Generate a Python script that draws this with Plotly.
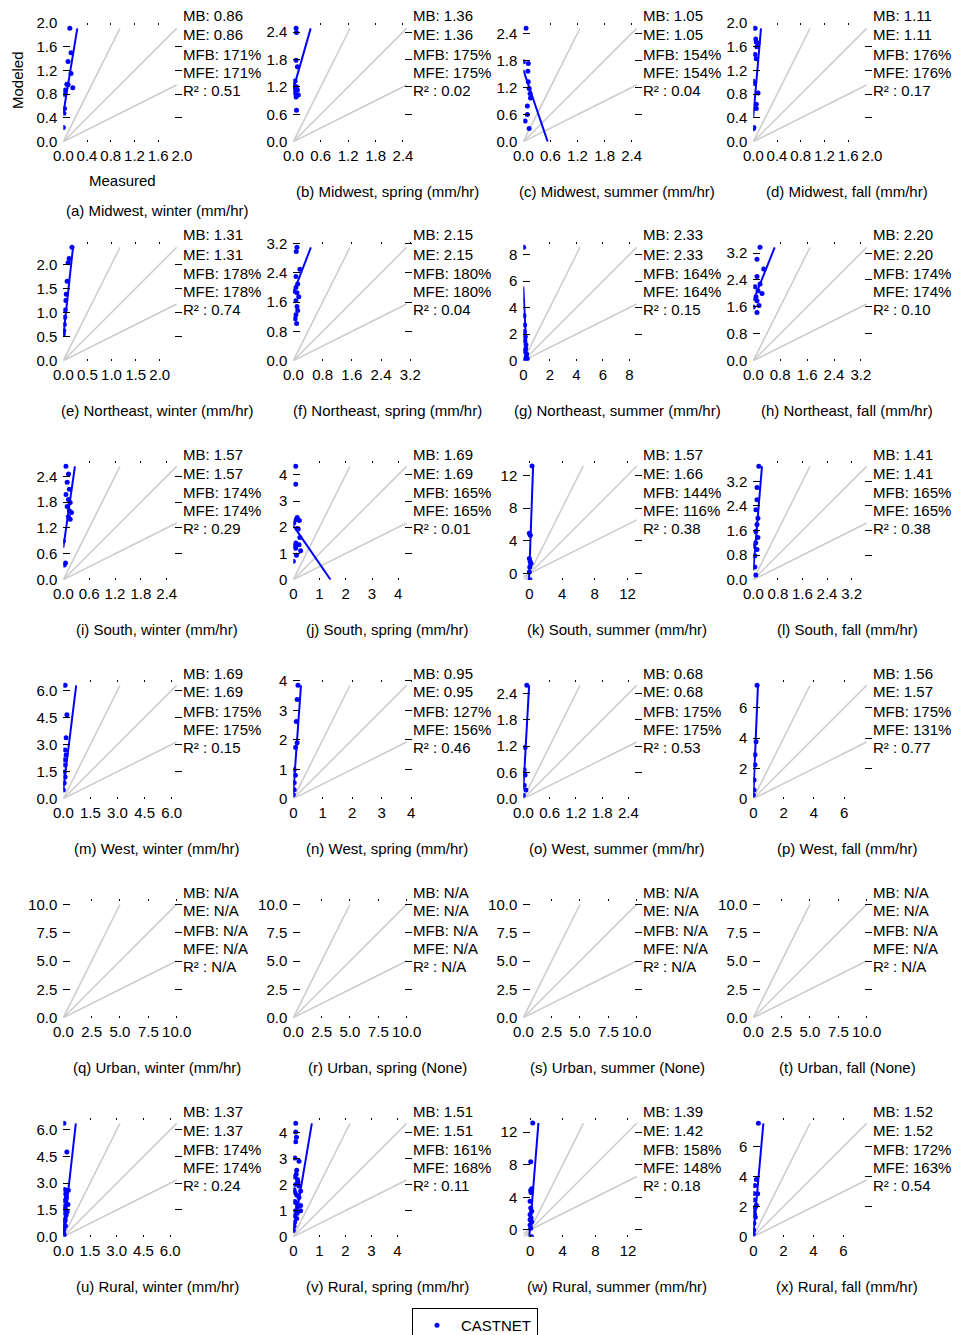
import plotly.graph_objects as go

# ---------------------------------------------------------------------------
# Data: measured vs. modeled precipitation (mm/hr) per region and season
# ---------------------------------------------------------------------------
a_meas = [0.11, 0.13, 0.08, 0.13, 0.06, 0.08, 0.16, 0.03, 0.02, 0.02, 0.01, 0.00]
a_mod = [1.91, 1.50, 1.35, 1.15, 0.97, 0.96, 0.91, 0.87, 0.80, 0.56, 0.48, 0.24]

b_meas = [0.06, 0.07, 0.06, 0.09, 0.04, 0.07, 0.09, 0.04, 0.11, 0.06, 0.07, 0.00, 0.00]
b_mod = [2.48, 2.39, 1.78, 1.64, 1.33, 1.20, 1.13, 1.06, 1.02, 0.98, 0.69, 1.15, 1.25]

c_meas = [0.06, 0.00, 0.11, 0.10, 0.11, 0.13, 0.15, 0.16, 0.09, 0.09, 0.04, 0.13]
c_mod = [2.51, 1.77, 1.73, 1.56, 1.33, 1.18, 1.07, 0.97, 0.79, 0.60, 0.46, 0.29]

d_meas = [0.03, 0.04, 0.05, 0.08, 0.06, 0.03, 0.05, 0.00, 0.01, 0.08, 0.05, 0.05, 0.01, 0.00]
d_mod = [1.91, 1.73, 1.68, 1.66, 1.60, 1.47, 1.40, 1.02, 0.98, 0.82, 0.63, 0.56, 0.24, 0.22]

e_meas = [0.18, 0.12, 0.10, 0.08, 0.06, 0.05, 0.04, 0.03, 0.02, 0.01, 0.00]
e_mod = [2.35, 2.12, 2.03, 1.65, 1.38, 1.25, 1.05, 0.90, 0.75, 0.62, 0.55]

f_meas = [0.10, 0.08, 0.18, 0.07, 0.12, 0.07, 0.10, 0.15, 0.07, 0.10, 0.12, 0.07, 0.00, 0.05, 0.09]
f_mod = [3.10, 2.99, 2.50, 2.30, 2.10, 2.00, 1.86, 1.75, 1.64, 1.48, 1.37, 1.26, 1.90, 1.15, 1.02]

g_meas = [0.02, 0.05, 0.10, 0.08, 0.15, 0.12, 0.20, 0.18, 0.10, 0.25, 0.22, 0.30, 0.00]
g_mod = [8.55, 3.40, 2.70, 2.20, 1.80, 1.50, 1.20, 0.90, 0.70, 0.50, 0.30, 0.15, 0.05]

h_meas = [0.20, 0.11, 0.31, 0.11, 0.20, 0.05, 0.14, 0.26, 0.08, 0.11, 0.17, 0.11, 0.00]
h_mod = [3.37, 3.02, 2.73, 2.50, 2.28, 2.20, 2.08, 2.00, 1.90, 1.78, 1.64, 1.43, 1.60]

i_meas = [0.06, 0.12, 0.09, 0.14, 0.06, 0.12, 0.16, 0.09, 0.14, 0.19, 0.12, 0.16, 0.05, 0.02, 0.00]
i_mod = [2.63, 2.45, 2.26, 2.10, 1.98, 1.86, 1.79, 1.70, 1.60, 1.56, 1.46, 1.40, 0.39, 0.34, 0.90]

j_meas = [0.09, 0.09, 0.15, 0.23, 0.11, 0.02, 0.19, 0.25, 0.10, 0.22, 0.09, 0.28, 0.12, 0.00, 0.15, 0.05]
j_mod = [4.32, 3.64, 2.37, 2.26, 2.29, 2.16, 1.93, 1.61, 1.40, 1.33, 1.20, 1.10, 0.93, 0.70, 1.95, 1.30]

k_meas = [0.33, 0.00, 0.12, 0.00, 0.20, 0.05, 0.00, 0.08, 0.10]
k_mod = [13.15, 4.93, 4.70, 1.85, 1.23, 0.82, 0.20, -0.74, 1.50]

l_meas = [0.18, 0.12, 0.12, 0.08, 0.15, 0.12, 0.08, 0.15, 0.08, 0.12, 0.05, 0.05, 0.08, 0.00]
l_mod = [3.69, 3.00, 2.60, 2.28, 2.00, 1.80, 1.57, 1.37, 1.20, 0.98, 0.78, 0.41, 0.15, 1.10]

m_meas = [0.10, 0.20, 0.15, 0.10, 0.15, 0.05, 0.10, 0.05, 0.10, 0.05, 0.00]
m_mod = [6.27, 4.65, 3.37, 2.70, 2.42, 2.15, 1.87, 1.48, 1.20, 0.87, 0.48]

n_meas = [0.16, 0.13, 0.10, 0.13, 0.07, 0.03, 0.07, 0.03, 0.03, 0.00]
n_mod = [3.85, 3.37, 2.62, 1.90, 1.74, 0.98, 0.80, 0.54, 0.30, 0.13]

o_meas = [0.08, 0.04, 0.02, 0.04, 0.02, 0.06, 0.00]
o_mod = [2.59, 1.17, 0.66, 0.54, 0.31, 0.20, 0.08]

p_meas = [0.25, 0.18, 0.11, 0.11, 0.05, 0.05, 0.00]
p_mod = [7.49, 3.77, 2.90, 2.24, 1.24, 0.58, 0.25]

q_meas, q_mod = [], []
r_meas, r_mod = [], []
s_meas, s_mod = [], []
t_meas, t_mod = [], []

u_meas = [0.03, 0.20, 0.08, 0.28, 0.12, 0.17, 0.08, 0.20, 0.26, 0.12, 0.05, 0.16,
          0.10, 0.05, 0.12, 0.03, 0.00, 0.05, 0.14, 0.22, 0.07, 0.10, 0.02]
u_mod = [6.36, 4.75, 2.65, 2.60, 2.40, 2.20, 2.00, 1.85, 1.80, 1.55, 1.35, 1.20,
         1.00, 0.80, 0.60, 0.40, 0.25, 0.10, 2.10, 1.40, 1.70, 0.90, 0.50]

v_meas = [0.09, 0.09, 0.12, 0.09, 0.06, 0.22, 0.13, 0.06, 0.16, 0.09, 0.22, 0.03, 0.28, 0.13, 0.22,
          0.06, 0.28, 0.16, 0.09, 0.28, 0.03, 0.13, 0.05, 0.03, 0.00, 0.18, 0.06, 0.10, 0.15, 0.11]
v_mod = [4.35, 4.02, 3.82, 3.64, 3.02, 2.90, 2.55, 2.30, 2.20, 2.00, 1.95, 1.80, 1.75, 1.60, 1.50,
         1.35, 1.20, 1.15, 1.00, 1.00, 0.80, 0.70, 0.55, 0.40, 0.25, 2.10, 1.70, 1.30, 0.90, 2.40]

w_meas = [0.33, 0.08, 0.20, 0.08, 0.12, 0.00, 0.08, 0.20, 0.00, 0.12, 0.00, 0.20, 0.00, 0.08, 0.20]
w_mod = [13.10, 8.35, 5.05, 4.85, 4.60, 3.50, 2.70, 2.30, 1.90, 1.45, 1.25, 1.00, 0.60, 0.20, -0.83]

x_meas = [0.34, 0.20, 0.10, 0.04, 0.29, 0.08, 0.20, 0.04, 0.13, 0.04, 0.02, 0.00, 0.15, 0.08]
x_mod = [7.54, 3.80, 3.40, 2.87, 2.85, 2.44, 2.10, 1.77, 1.30, 0.90, 0.45, 0.18, 2.00, 1.50]

# Least-squares fit (modeled = intercept + slope * measured) per panel
reg_slope = [6.06, 3.5, -2.94, 11.5,
             9.2, 2.6, -20.0, 2.5,
             7.0, -1.45, 28.0, 12.0,
             8.1, 14.0, 18.0, 24.0,
             None, None, None, None,
             8.9, 5.9, 12.5, 11.2]
reg_intercept = [0.48, 1.15, 1.59, 0.42,
                 0.5, 1.85, 5.6, 1.78,
                 0.74, 2.06, 0.3, 0.3,
                 0.5, 0.2, 0.2, 0.1,
                 None, None, None, None,
                 0.1, 0.15, 0.3, 0.05]

# Performance statistics
stat_mb = ["0.86", "1.36", "1.05", "1.11", "1.31", "2.15", "2.33", "2.20",
           "1.57", "1.69", "1.57", "1.41", "1.69", "0.95", "0.68", "1.56",
           "N/A", "N/A", "N/A", "N/A", "1.37", "1.51", "1.39", "1.52"]
stat_me = ["0.86", "1.36", "1.05", "1.11", "1.31", "2.15", "2.33", "2.20",
           "1.57", "1.69", "1.66", "1.41", "1.69", "0.95", "0.68", "1.57",
           "N/A", "N/A", "N/A", "N/A", "1.37", "1.51", "1.42", "1.52"]
stat_mfb = ["171%", "175%", "154%", "176%", "178%", "180%", "164%", "174%",
            "174%", "165%", "144%", "165%", "175%", "127%", "175%", "175%",
            "N/A", "N/A", "N/A", "N/A", "174%", "161%", "158%", "172%"]
stat_mfe = ["171%", "175%", "154%", "176%", "178%", "180%", "164%", "174%",
            "174%", "165%", "116%", "165%", "175%", "156%", "175%", "131%",
            "N/A", "N/A", "N/A", "N/A", "174%", "168%", "148%", "163%"]
stat_r2 = ["0.51", "0.02", "0.04", "0.17", "0.74", "0.04", "0.15", "0.10",
           "0.29", "0.01", "0.38", "0.38", "0.15", "0.46", "0.53", "0.77",
           "N/A", "N/A", "N/A", "N/A", "0.24", "0.11", "0.18", "0.54"]

regions = ["Midwest", "Northeast", "South", "West", "Urban", "Rural"]
seasons = ["winter", "spring", "summer", "fall"]
panel_units = ["mm/hr"] * 17 + ["None", "None", "None"] + ["mm/hr"] * 4

# Tick sets
ticks_04 = [0.0, 0.4, 0.8, 1.2, 1.6, 2.0]
ticks_05 = [0.0, 0.5, 1.0, 1.5, 2.0]
ticks_06 = [0.0, 0.6, 1.2, 1.8, 2.4]
ticks_08 = [0.0, 0.8, 1.6, 2.4, 3.2]
ticks_1 = [0, 1, 2, 3, 4]
ticks_15 = [0.0, 1.5, 3.0, 4.5, 6.0]
ticks_2a = [0, 2, 4, 6, 8]
ticks_2b = [0, 2, 4, 6]
ticks_25 = [0.0, 2.5, 5.0, 7.5, 10.0]
ticks_4 = [0, 4, 8, 12]

panel_ticks = [ticks_04, ticks_06, ticks_06, ticks_04,
               ticks_05, ticks_08, ticks_2a, ticks_08,
               ticks_06, ticks_1, ticks_4, ticks_08,
               ticks_15, ticks_1, ticks_06, ticks_2b,
               ticks_25, ticks_25, ticks_25, ticks_25,
               ticks_15, ticks_1, ticks_4, ticks_2b]
panel_decimals = [1, 1, 1, 1,
                  1, 1, 0, 1,
                  1, 0, 0, 1,
                  1, 0, 1, 0,
                  1, 1, 1, 1,
                  1, 0, 0, 0]

EMPTY_LIMITS = (0.0, 10.0)

measured = [a_meas, b_meas, c_meas, d_meas, e_meas, f_meas, g_meas, h_meas,
            i_meas, j_meas, k_meas, l_meas, m_meas, n_meas, o_meas, p_meas,
            q_meas, r_meas, s_meas, t_meas, u_meas, v_meas, w_meas, x_meas]
modeled = [a_mod, b_mod, c_mod, d_mod, e_mod, f_mod, g_mod, h_mod,
           i_mod, j_mod, k_mod, l_mod, m_mod, n_mod, o_mod, p_mod,
           q_mod, r_mod, s_mod, t_mod, u_mod, v_mod, w_mod, x_mod]

# ---------------------------------------------------------------------------
# Layout helpers
# ---------------------------------------------------------------------------
W, H = 954, 1335
FONT = "Liberation Sans, Arial, Helvetica, sans-serif"
BLUE = "#0000ff"
GREY = "#cccccc"
SIDE = 119.0
COL0, COL_STEP = 63.3, 230.0
ROW0, ROW_STEP = 22.7, 219.0


def px_x(p):
    return p / W


def px_y(p):
    return 1.0 - p / H


def segment_in_box(slope, intercept, lo, hi):
    """End points of y = intercept + slope*x inside the square [lo, hi]^2."""
    pts = []
    for xv in (lo, hi):
        yv = intercept + slope * xv
        if lo - 1e-9 <= yv <= hi + 1e-9:
            pts.append((xv, yv))
    if slope != 0:
        for yv in (lo, hi):
            xv = (yv - intercept) / slope
            if lo - 1e-9 <= xv <= hi + 1e-9:
                pts.append((xv, yv))
    pts.sort()
    if len(pts) < 2:
        return None
    return [pts[0][0], pts[-1][0]], [pts[0][1], pts[-1][1]]


fig = go.Figure()
annotations = []

for i in range(24):
    row, col = divmod(i, 4)
    left = COL0 + COL_STEP * col
    top = ROW0 + ROW_STEP * row
    sfx = "" if i == 0 else str(i + 1)
    xref, yref = "x" + sfx, "y" + sfx

    xs, ys = measured[i], modeled[i]
    if xs:
        lo = min(min(xs), min(ys))
        hi = max(max(xs), max(ys))
    else:
        lo, hi = EMPTY_LIMITS
    rng = [lo, hi * 1.05]

    # 2:1, 1:1 and 1:2 reference lines
    for k in (2.0, 1.0, 0.5):
        x0 = max(lo, lo / k)
        x1 = min(hi, hi / k)
        fig.add_trace(go.Scatter(
            x=[x0, x1], y=[k * x0, k * x1], mode="lines",
            line=dict(color=GREY, width=1.5), xaxis=xref, yaxis=yref,
            showlegend=False, hoverinfo="skip"))

    if xs:
        fig.add_trace(go.Scatter(
            x=xs, y=ys, mode="markers", name="CASTNET",
            marker=dict(color=BLUE, size=5, line=dict(width=0)),
            xaxis=xref, yaxis=yref, showlegend=(i == 0)))
        seg = segment_in_box(reg_slope[i], reg_intercept[i], lo, hi)
        if seg:
            fig.add_trace(go.Scatter(
                x=seg[0], y=seg[1], mode="lines",
                line=dict(color=BLUE, width=2), xaxis=xref, yaxis=yref,
                showlegend=False, hoverinfo="skip"))

    tv = panel_ticks[i]
    tt = [f"{v:.{panel_decimals[i]}f}" for v in tv]
    common = dict(
        range=rng, tickvals=tv, ticktext=tt, showgrid=False, zeroline=False,
        showline=False, ticks="inside", mirror="ticks", tickcolor="black",
        tickwidth=1, tickangle=0, automargin=False,
        tickfont=dict(family=FONT, size=15, color="black"),
    )
    fig.layout["xaxis" + sfx] = dict(
        common, domain=[px_x(left), px_x(left + SIDE)], anchor=yref,
        ticklen=2, ticklabelstandoff=3)
    fig.layout["yaxis" + sfx] = dict(
        common, domain=[px_y(top + SIDE), px_y(top)], anchor=xref,
        ticklen=7, ticklabelstandoff=5)

    # statistics block to the right of each panel
    lines = [f"MB: {stat_mb[i]}", f"ME: {stat_me[i]}", f"MFB: {stat_mfb[i]}",
             f"MFE: {stat_mfe[i]}", f"R² : {stat_r2[i]}"]
    offsets = [-6.7, 12.3, 31.4, 50.0, 67.6]
    for txt, off in zip(lines, offsets):
        annotations.append(dict(
            text=txt, xref="paper", yref="paper",
            x=px_x(left + SIDE - 1), y=px_y(top + off),
            xanchor="left", yanchor="middle", showarrow=False,
            font=dict(family=FONT, size=15, color="black")))

    # panel caption
    region = regions[row]
    cap = f"({chr(97 + i)}) {region}, {seasons[col]} ({panel_units[i]})"
    cap_y = top + SIDE + (68.5 if i == 0 else 50.0)
    annotations.append(dict(
        text=cap, xref="paper", yref="paper",
        x=px_x(157 + COL_STEP * col), y=px_y(cap_y),
        xanchor="center", yanchor="middle", showarrow=False,
        font=dict(family=FONT, size=15, color="black")))

# axis titles on the first panel
annotations.append(dict(
    text="Measured", xref="paper", yref="paper",
    x=px_x(COL0 + SIDE / 2), y=px_y(180), xanchor="center", yanchor="middle",
    showarrow=False, font=dict(family=FONT, size=15, color="black")))
annotations.append(dict(
    text="Modeled", xref="paper", yref="paper", textangle=-90,
    x=px_x(17), y=px_y(80), xanchor="center", yanchor="middle",
    showarrow=False, font=dict(family=FONT, size=15, color="black")))

fig.update_layout(
    width=W, height=H,
    margin=dict(l=0, r=0, t=0, b=0, autoexpand=False),
    paper_bgcolor="white", plot_bgcolor="white",
    font=dict(family=FONT, size=15, color="black"),
    annotations=annotations,
    legend=dict(x=px_x(475), xanchor="center", y=px_y(1308), yanchor="top",
                bordercolor="black", borderwidth=1, bgcolor="white",
                itemwidth=38,
                font=dict(family=FONT, size=15, color="black")),
    showlegend=True,
)

fig.write_html("out.html")
